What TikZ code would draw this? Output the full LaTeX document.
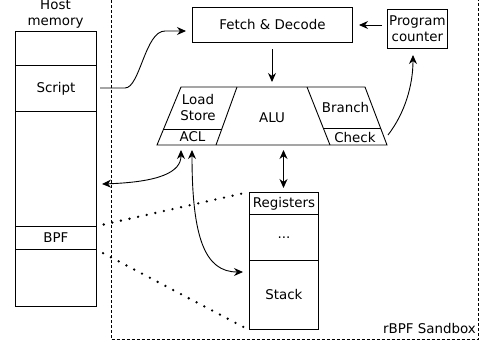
\documentclass[tikz,border=0pt]{standalone}
\usepackage{fontspec}
\setmainfont{DejaVu Sans}
\usetikzlibrary{arrows.meta,calc}
\begin{document}
\begin{tikzpicture}[x=1pt,y=-1pt,
  every node/.style={font=\fontsize{13.4}{16}\selectfont, inner sep=0pt},
  box/.style={draw, line width=0.9pt, anchor=north west, align=center},
  arr/.style={line width=0.9pt, -{Stealth[length=9pt,width=8pt]}},
  darr/.style={line width=0.9pt, {Stealth[length=9pt,width=8pt]}-{Stealth[length=9pt,width=8pt]}},
  aluline/.style={line width=0.9pt},
  dotline/.style={line width=2.6pt, line cap=round, dash pattern=on 0pt off 8.8pt},
  sandbox/.style={line width=0.9pt, dash pattern=on 3pt off 2pt}]
\useasboundingbox (0,0) rectangle (483,341);
% sandbox
\draw[sandbox] (111,-5) rectangle (478,339.5);
\node[anchor=base east] (sbx) at (476,333) {rBPF Sandbox};
% host memory
\node[anchor=base] (host) at (55.5,9) {Host};
\node[anchor=base] (mem) at (55.5,25) {memory};
\node[box, minimum width=81pt, minimum height=34pt] (hm1) at (15,31) {};
\node[box, minimum width=81pt, minimum height=46pt] (script) at (15,65) {Script};
\node[box, minimum width=81pt, minimum height=115pt] (hm3) at (15,111) {};
\node[box, minimum width=81pt, minimum height=23pt] (bpf) at (15,226) {BPF};
\node[box, minimum width=81pt, minimum height=57pt] (hm5) at (15,249) {};
% fetch & pc
\node[box, minimum width=160pt, minimum height=35pt] (fetch) at (192,7) {Fetch \& Decode};
\node[box, minimum width=60pt, minimum height=39pt] (pc) at (387,9) {Program\\counter};
% registers / stack
\node[box, minimum width=69pt, minimum height=22pt] (regs) at (249,192) {Registers};
\node[box, minimum width=69pt, minimum height=46pt] (dots) at (249,214) {...};
\node[box, minimum width=69pt, minimum height=69pt] (stack) at (249,260) {Stack};
% ALU trapezoid
\coordinate (aBL) at (157,145);
\coordinate (aTL) at (181,87);
\coordinate (aTR) at (365,87);
\coordinate (aBR) at (387,145);
\coordinate (d1t) at (237,87);
\coordinate (d1b) at (216,145);
\coordinate (d2t) at (307,87);
\coordinate (d2b) at (330,145);
\draw[aluline] (aBL) -- (aTL) -- (aTR) -- (aBR) -- cycle;
\draw[aluline] (d1t) -- (d1b);
\draw[aluline] (d2t) -- (d2b);
\draw[aluline] ($(aTL)!0.724!(aBL)$) -- ($(d1t)!0.724!(d1b)$);
\draw[aluline] ($(d2t)!0.707!(d2b)$) -- ($(aTR)!0.707!(aBR)$);
\node[align=center] (ls) at (198,107) {Load\\Store};
\node (acl) at (192.5,137) {ACL};
\node (alu) at (272,118) {ALU};
\node (branch) at (345.5,107.5) {Branch};
\node (check) at (355,137) {Check};
% connector end points
\coordinate (aluTop) at (272,82);
\coordinate (fetchOut) at (272,49);
\coordinate (scrOut) at (100,88);
\coordinate (scrMid) at (125,88);
\coordinate (fetchIn0) at (165,31);
\coordinate (fetchIn) at (186,31);
\coordinate (pcOut) at (382,25);
\coordinate (fetchR) at (359,25);
\coordinate (hostIn) at (102,184);
\coordinate (acl1) at (181,150);
\coordinate (acl2) at (192,150);
\coordinate (stackIn) at (243,272);
\coordinate (aluB) at (283.5,150);
\coordinate (regIn) at (283.5,188);
\coordinate (chkOut) at (388,135);
\coordinate (pcIn) at (413,55);
% connectors
\draw[arr] (fetchOut) -- (aluTop);
\draw[arr] (pcOut) -- (fetchR);
\draw[arr] (scrOut) -- (scrMid) .. controls (140,88) and (145,31) .. (fetchIn0) -- (fetchIn);
\draw[darr] (hostIn) .. controls (160,182) and (181,172) .. (acl1);
\draw[darr] (acl2) .. controls (192,238) and (205,272) .. (stackIn);
\draw[darr] (aluB) -- (regIn);
\draw[arr] (chkOut) .. controls (405,113) and (413,85) .. (pcIn);
% dotted
\draw[dotline, shorten <=7pt] (bpf.north east) -- (regs.north west);
\draw[dotline, shorten <=7pt] (bpf.south east) -- (stack.south west);
\end{tikzpicture}
\end{document}
